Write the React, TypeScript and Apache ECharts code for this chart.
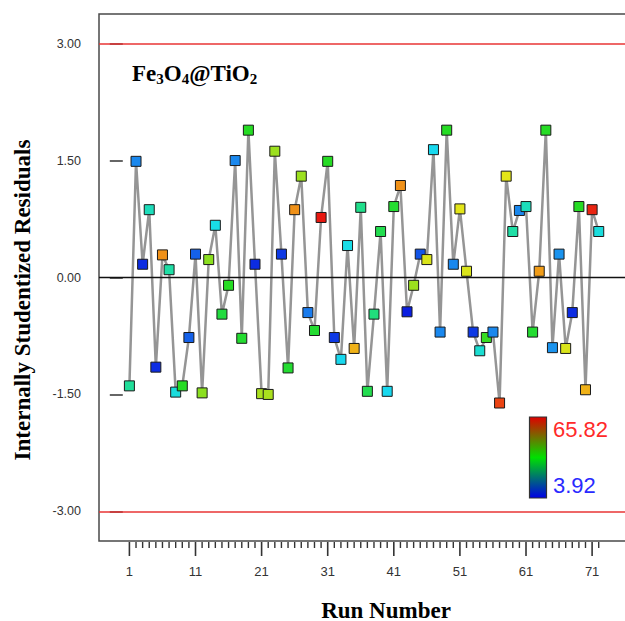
import React, { useEffect, useRef } from "react";
import * as echarts from "echarts";

const runs = [
  1, 2, 3, 4, 5, 6, 7, 8, 9, 10, 11, 12, 13, 14, 15, 16, 17, 18, 19, 20, 21, 22, 23, 24,
  25, 26, 27, 28, 29, 30, 31, 32, 33, 34, 35, 36, 37, 38, 39, 40, 41, 42, 43, 44, 45, 46, 47, 48,
  49, 50, 51, 52, 53, 54, 55, 56, 57, 58, 59, 60, 61, 62, 63, 64, 65, 66, 67, 68, 69, 70, 71, 72,
];

const residuals = [
  -1.39, 1.49, 0.17, 0.87, -1.15, 0.29, 0.1, -1.47, -1.39, -0.77, 0.3, -1.48,
  0.23, 0.67, -0.47, -0.1, 1.5, -0.78, 1.89, 0.17, -1.49, -1.5, 1.62, 0.3,
  -1.16, 0.87, 1.3, -0.45, -0.68, 0.77, 1.49, -0.77, -1.05, 0.41, -0.91, 0.9,
  -1.46, -0.47, 0.59, -1.46, 0.91, 1.18, -0.44, -0.1, 0.3, 0.23, 1.64, -0.7,
  1.89, 0.17, 0.88, 0.08, -0.7, -0.94, -0.77, -0.7, -1.61, 1.3, 0.59, 0.86,
  0.91, -0.7, 0.08, 1.89, -0.9, 0.3, -0.91, -0.45, 0.91, -1.44, 0.87, 0.59,
];

const responses = [
  27, 12, 5, 24, 5, 58, 26, 21, 35, 9, 9, 41,
  41, 20, 33, 35, 12, 34, 35, 5, 43, 43, 42, 6,
  34, 58, 42, 11, 34, 65.82, 35, 6, 19, 20, 55, 28,
  32, 29, 32, 19, 34, 58, 3.92, 42, 8, 48, 19, 12,
  35, 12, 49, 48, 6, 22, 36, 12, 63, 49, 26, 12,
  24, 34, 57, 35, 13, 13, 48, 5, 35, 55, 65, 21,
];

const yTicks = [-3, -1.5, 0, 1.5, 3];
const xMajorTicks = [1, 11, 21, 31, 41, 51, 61, 71];
const xMinorTicks = runs;
const limitLines = [3, -3];
const respMin = 3.92;
const respMax = 65.82;

const X_MIN = -3.6;
const X_MAX = 80;
const Y_MIN = -3.38;
const Y_MAX = 3.38;

export default function App() {
  const ref = useRef<HTMLDivElement>(null);

  useEffect(() => {
    if (!ref.current) return;
    const chart = echarts.init(ref.current, undefined, { renderer: "svg" });
    const pts = runs.map((r, i) => [r, residuals[i], responses[i]]);
    const tickData = xMinorTicks.map((v) => [v, Y_MIN, xMajorTicks.indexOf(v) >= 0 ? 1 : 0]);
    const grid = {
      left: 99,
      top: 14,
      width: 552.6,
      height: 527,
      containLabel: false,
      outerBoundsMode: "none",
      show: true,
      borderColor: "#4a4a4a",
      borderWidth: 1.5,
    };
    const baseX = { type: "value", min: X_MIN, max: X_MAX, gridIndex: 0, splitLine: { show: false }, offset: 0 };

    chart.setOption({
      animation: false,
      backgroundColor: "#fff",
      grid: [grid],
      xAxis: [
        { ...baseX, axisLine: { show: false }, axisTick: { show: false }, axisLabel: { show: false } },
        {
          ...baseX,
          position: "bottom",
          axisLine: { show: false },
          axisTick: { show: false },
          axisLabel: { show: true, customValues: xMajorTicks, margin: 24, fontSize: 13, color: "#333", fontFamily: "Liberation Sans" },
        },
      ],
      yAxis: [
        {
          type: "value",
          min: Y_MIN,
          max: Y_MAX,
          splitLine: { show: false },
          axisLine: { show: false },
          axisTick: { show: true, customValues: yTicks, length: 13, lineStyle: { color: "#333", width: 1.5 } },
          axisLabel: {
            show: true,
            customValues: yTicks,
            margin: 18,
            fontSize: 12.5,
            color: "#333",
            fontFamily: "Liberation Sans",
            formatter: (v: number) => v.toFixed(2),
          },
        },
      ],
      visualMap: {
        show: false,
        type: "continuous",
        min: respMin,
        max: respMax,
        dimension: 2,
        seriesIndex: 1,
        inRange: {
          color: ["#0a1ee0", "#1a84ee", "#18dcee", "#20de98", "#24dc24", "#a6e01e", "#f0e618", "#f09018", "#e81810"],
        },
      },
      series: [
        {
          type: "line",
          data: pts,
          xAxisIndex: 0,
          yAxisIndex: 0,
          showSymbol: false,
          symbol: "none",
          lineStyle: { color: "#959595", width: 2.5 },
          z: 2,
          markLine: {
            silent: true,
            symbol: "none",
            label: { show: false },
            data: [
              ...limitLines.map((v) => ({ yAxis: v, lineStyle: { color: "#e83434", width: 1.6, type: "solid" } })),
              { yAxis: 0, lineStyle: { color: "#111", width: 1.4, type: "solid" } },
            ],
          },
        },
        {
          type: "scatter",
          data: pts,
          xAxisIndex: 0,
          yAxisIndex: 0,
          symbol: "rect",
          symbolSize: 10,
          itemStyle: { borderColor: "#1a1a1a", borderWidth: 1, opacity: 1 },
          z: 3,
        },
        {
          type: "scatter",
          data: tickData,
          xAxisIndex: 0,
          yAxisIndex: 0,
          clip: false,
          silent: true,
          symbol: "rect",
          symbolSize: (val: number[]) => (val[2] === 1 ? [1.6, 14] : [1.4, 6]),
          symbolOffset: (val: number[]) => (val[2] === 1 ? [0, 8] : [0, 4]),
          itemStyle: { color: "#333", opacity: 1 },
          z: 10,
        },
      ],
      graphic: [
        {
          type: "text",
          left: 132,
          top: 60,
          style: {
            text: "Fe{s|3}O{s|4}@TiO{s|2}",
            font: "bold 23px 'Liberation Serif'",
            fill: "#000",
            lineHeight: 26,
            rich: {
              s: { fontSize: 15, fontWeight: "bold", fontFamily: "Liberation Serif", verticalAlign: "bottom", lineHeight: 15, fill: "#000" },
            },
          },
        },
        {
          type: "text",
          x: 22,
          y: 300,
          rotation: Math.PI / 2,
          style: {
            text: "Internally Studentized Residuals",
            font: "bold 23px 'Liberation Serif'",
            fill: "#000",
            align: "center",
            verticalAlign: "middle",
          },
        },
        {
          type: "text",
          x: 386,
          y: 610,
          style: {
            text: "Run Number",
            font: "bold 23px 'Liberation Serif'",
            fill: "#000",
            align: "center",
            verticalAlign: "middle",
          },
        },
        {
          type: "rect",
          shape: { x: 529.5, y: 417, width: 17, height: 81 },
          style: {
            fill: new echarts.graphic.LinearGradient(0, 0, 0, 1, [
              { offset: 0, color: "#e00000" },
              { offset: 0.5, color: "#00e000" },
              { offset: 1, color: "#0000e6" },
            ]),
            stroke: "#333",
            lineWidth: 1.2,
          },
        },
        {
          type: "text",
          x: 553,
          y: 429,
          style: { text: String(respMax.toFixed(2)), font: "22px 'Liberation Sans'", fill: "#ff2a2a", verticalAlign: "middle" },
        },
        {
          type: "text",
          x: 553,
          y: 485,
          style: { text: String(respMin.toFixed(2)), font: "22px 'Liberation Sans'", fill: "#2a2aff", verticalAlign: "middle" },
        },
      ],
    });
    return () => chart.dispose();
  }, []);

  return <div ref={ref} style={{ position: "absolute", left: 0, top: 0, width: 625, height: 621 }} />;
}
